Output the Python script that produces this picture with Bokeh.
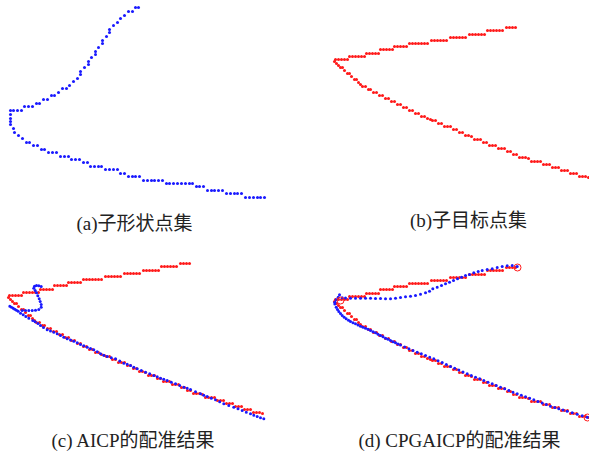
from bokeh.plotting import figure
from bokeh.models import Range1d, Label
from bokeh.layouts import column, row
from bokeh.embed import file_html
from bokeh.resources import INLINE

# ---- (a) model point set (sub-shape), coordinates in its own frame ----
model_x = [138,135,132,128,124,120,117,113,109,109,106,102,102,98,95,95,91,88,88,84,80,80,77,73,69,66,62,58,54,51,47,43,39,36,32,28,24,21,17,13,10,10,10,10,10,13,14,18,22,26,29,33,37,41,44,48,52,56,60,64,68,71,75,79,83,87,90,94,98,101,105,109,113,117,120,124,128,132,135,139,143,147,151,154,158,162,166,169,173,177,181,185,189,192,196,199,203,207,211,214,218,222,226,230,234,237,241,245,249,253,257,260,264]
model_y = [7,7,11,11,15,18,22,25,29,32,36,40,43,47,51,54,57,61,64,67,71,74,78,81,85,88,88,92,95,95,99,99,103,103,106,106,106,110,110,110,110,114,118,121,124,128,132,135,138,142,142,145,145,149,149,152,152,152,156,156,156,159,159,159,162,162,166,166,166,166,169,169,169,169,173,173,176,176,176,176,180,180,180,180,180,180,183,183,183,183,183,183,183,183,186,186,186,190,190,190,190,190,193,193,193,193,193,197,197,197,197,197,197]

# ---- (b) target point set (sub-target), same frame used by (c) and (d) ----
target_x = [515,512,509,506,502,499,496,493,490,487,484,481,478,475,472,469,465,462,459,456,453,450,446,443,440,437,434,431,427,424,421,418,415,412,409,406,403,400,397,394,392,389,386,383,380,378,375,372,369,366,364,361,358,355,352,349,347,344,341,338,335,334,
            336,338,340,342,344,347,349,351,354,356,358,360,362,365,368,370,373,376,379,382,385,388,391,394,397,400,403,406,409,412,415,418,421,424,427,430,432,435,438,441,444,447,450,453,456,459,462,465,468,471,474,477,480,483,486,489,492,495,498,501,504,507,510,513,516,519,522,525,528,531,534,537,540,543,546,549,552,555,558,561,564,567,570,573,576,579,582,585,588]
target_y = [27,27,27,27,30,30,30,30,30,30,34,34,34,34,34,34,37,37,37,37,37,37,40,40,40,40,40,40,43,43,43,43,43,43,43,46,46,46,46,46,49,49,49,49,49,53,53,53,53,53,56,56,56,56,56,56,59,59,59,59,59,61,
            63,65,67,67,70,73,73,76,79,79,82,84,86,86,89,89,92,92,95,95,98,98,101,101,104,104,107,107,110,110,113,113,116,116,118,119,120,120,123,123,126,126,126,129,129,132,132,135,135,136,139,139,139,142,142,145,145,145,148,148,148,151,151,154,154,157,157,157,158,161,161,161,161,164,164,164,167,167,167,170,170,170,173,173,173,176,176,176,177]

# ---- (c) AICP result (model after registration), target frame ----
aicp_x = [335.3,337,338.7,340.3,342,343.7,
          347.7,351,354.3,357.7,361,364.3,
          366.7,366.7,365.7,364.7,363.3,362,360.7,359.3,360,362,364.3,366.7,
          346,348.7,351.3,354.3,358.3,360.7,363.5,366,
          369,372.7,376,379.3,382.7,386,389.3,392.7,396,399.3,402.7,406,409.3,412.7,416,419.3,422.7,426,429.3,432.7,436.8,441,445.2,449.3,452.7,456,459.3,462.7,466.8,471,475.2,479.3,482.7,486,489.3,492.7,496.8,501,505.2,509.3,512.7,516,521,526,529.3,532.7,536.8,541,545.2,549.3,554.3,559.3,563.5,567.7,571.8,576,579.3,582.7,586,589.3]
aicp_y = [69.7,70.7,71.7,72.7,73.7,74.7,
          74,74,74,74,73.7,73,
          70.7,68,65,62.3,59.3,56.3,54,51.7,49.7,49,49.3,50,
          76.7,78.3,80,81.7,84,85.3,87,89,
          91,93.3,94.5,95.7,97.3,99,100.7,102.3,103.5,104.7,106.3,108,109.3,110.7,112,113.3,115.3,117.3,118.7,120,121.2,122.3,124.5,126.7,127.8,129,130.7,132.3,134,135.7,137.3,139,140.3,141.7,142.8,144,145.7,147.3,149,150.7,151.8,153,155.2,157.3,158.7,160,161.7,163.3,165.3,167.3,169,170.7,172.3,174,175.7,177.3,178.7,180,181.2,182.3]

# ---- (d) CPGAICP result (model after registration), target frame ----
cpg_x = [334.3,335.7,337.7,339,
         341.7,345,350,355,360,365,370,375,380,385,390,395,400,405,410,415,420,425,429,432.3,436.7,441,445,449,453,457,461,465,469,473.3,477.7,481.7,486.7,491.7,496.7,501.7,506.7,511.7,516.7,
         334.3,335.7,337,338.3,340,341.7,343.7,345.7,348,350,352.5,355,357.5,360,362.5,365,367.5,370,372.5,375,377.5,380,382.5,385,387.5,390,392.5,395,397.5,400,404.2,408.4,412.5,416.7,420.8,425,429.2,433.3,437.5,441.7,445.8,450,454.2,458.3,462.5,466.7,470.8,475,479.2,483.3,487.5,491.7,495.8,500,504.2,508.3,512.5,516.7,520.8,525,529.2,533.3,537.5,541.7,545.8,550,554.2,558.3,562.5,566.7,571.7,576.7,581.7,586.7]
cpg_y = [61.7,59.3,56.7,54.3,
         57.3,57.5,57.7,57.7,57.7,57.7,57.7,58,58,58.3,58.3,57.7,57,56.3,55.7,55,53.7,52.3,50.7,48.3,46.7,45,43.3,41.7,40,38.3,36.7,35,34,32.3,31,30,29,28.3,27,26,25.3,25,26,
         63.5,66.7,69,71,73,75,76.7,78.3,79.7,81,82.2,83.3,84.5,85.7,86.7,87.7,88.8,90,91.2,92.3,93.7,95,96.3,97.7,98.8,100,101.2,102.3,103.4,104.5,106.4,108.3,110,111.7,113.3,115,116.7,118.3,120.2,122.1,124,126,127.8,129.6,131.5,133.3,135,136.7,138.3,140,141.7,143.3,145,146.7,148.3,150,151.7,153.3,154.8,156.3,157.8,159.3,160.9,162.5,164.1,165.7,167,168.2,169.5,170.7,172.2,173.7,175.2,176.7]

# marked correspondence points in (d)
mark_x = [340, 517, 587]
mark_y = [60, 27, 177]

captions = ["(a)子形状点集", "(b)子目标点集", "(c) AICP的配准结果", "(d) CPGAICP的配准结果"]

BLUE = "#1a1aff"
RED = "#ff1a1a"
FONT = "Liberation Serif, Noto Sans CJK SC"


def panel(w, h, xr, yr):
    p = figure(width=w, height=h, x_range=Range1d(*xr), y_range=Range1d(*yr),
               output_backend="svg", toolbar_location=None,
               x_axis_location=None, y_axis_location=None, min_border=0)
    p.xgrid.visible = False
    p.ygrid.visible = False
    p.outline_line_color = None
    p.background_fill_color = "white"
    p.border_fill_color = "white"
    return p


def dots(p, xs, ys, color):
    p.scatter(xs, ys, marker="circle", size=3.0, fill_color=color, line_color=None)


def caption(p, x, y, text):
    p.add_layout(Label(x=x, y=y, text=text, text_align="center", text_baseline="middle",
                       text_font=FONT, text_font_size="19px", text_color="#222222"))


pa = panel(298, 236, (0, 298), (236, 0))
dots(pa, model_x, model_y, BLUE)
caption(pa, 134, 223, captions[0])

pb = panel(291, 236, (298, 589), (236, 0))
dots(pb, target_x, target_y, RED)
caption(pb, 468, 220, captions[1])

pc = panel(298, 220, (326, 624), (220, 0))
dots(pc, target_x, target_y, RED)
dots(pc, aicp_x, aicp_y, BLUE)
caption(pc, 459, 204, captions[2])

pd = panel(291, 220, (298, 589), (216, -4))
dots(pd, target_x, target_y, RED)
dots(pd, cpg_x, cpg_y, BLUE)
pd.scatter(mark_x, mark_y, marker="circle", size=7, fill_color=None, line_color=RED, line_width=1)
caption(pd, 459, 200, captions[3])

layout = column(row(pa, pb), row(pc, pd))
open("out.html", "w").write(file_html(layout, INLINE))
